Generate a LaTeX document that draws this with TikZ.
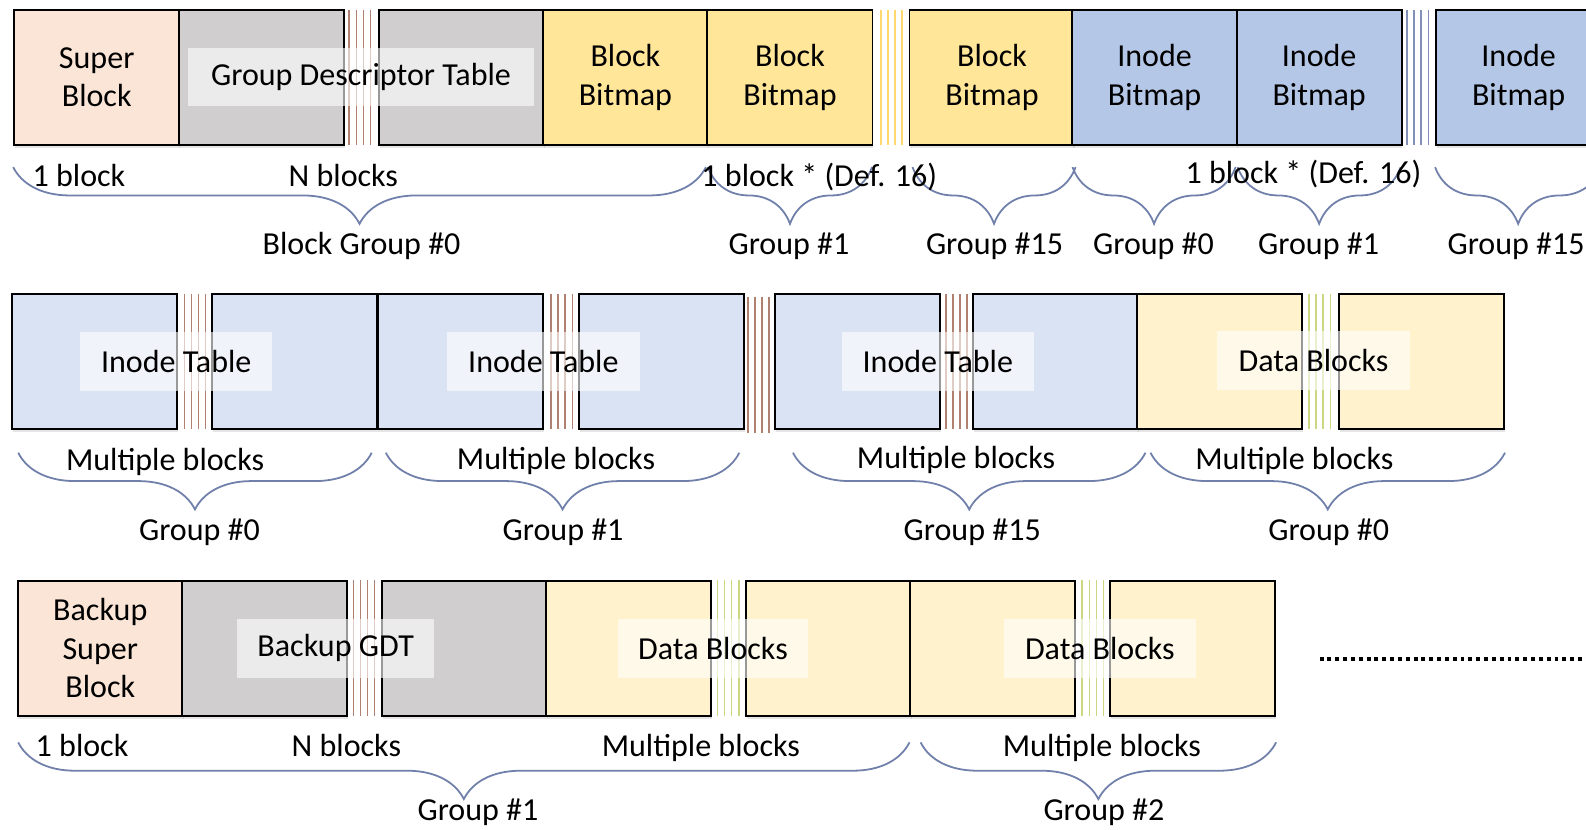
\documentclass[tikz,border=0pt]{standalone}
\usepackage{fontspec}
\setmainfont{Carlito}
\usepackage{tikz}
\usetikzlibrary{positioning, decorations.pathreplacing, shadows}

\definecolor{peach}{HTML}{FBE5D6}
\definecolor{gdtgray}{HTML}{D0CECE}
\definecolor{bmyellow}{HTML}{FFE699}
\definecolor{bmblue}{HTML}{B4C7E7}
\definecolor{itblue}{HTML}{DAE3F3}
\definecolor{dbyellow}{HTML}{FFF2CC}
\definecolor{bracecol}{HTML}{7080AA}
\definecolor{brownline}{HTML}{B08070}
\definecolor{yellowline}{HTML}{FFD970}
\definecolor{blueline}{HTML}{8290B8}
\definecolor{greenline}{HTML}{CDD782}

\begin{document}
\begin{tikzpicture}[x=0.02cm, y=-0.02cm, font=\fontsize{18}{21.6}\selectfont]
        % Setup the styles
        \tikzset{block style/.style={draw=black,
                                     line width=1.1pt,
                                     minimum width=3.26cm,
                                     minimum height=2.66cm,
                                     inner sep=0pt,
                                     align=center,
                                     drop shadow={shadow xshift=0.4pt, shadow yshift=-2pt, opacity=0.2}},
                 label style/.style={fill=white,
                                     fill opacity=0.6,
                                     text opacity=1,
                                     minimum height=1.16cm,
                                     inner sep=0pt},
                 text style/.style={inner sep=0pt, text height=1.5ex, text depth=.25ex, yshift=-0.1cm},
                 brace style/.style={decorate,
                                     decoration={brace, mirror, amplitude=1.12cm},
                                     draw=bracecol,
                                     line width=1pt},
                 gap style/.style={line width=0.8pt}}

        \clip (0,0) rectangle (1566,819);
        \fill[white] (0,0) rectangle (1566,819);

        % Draw the first row of blocks
        \node[block style, fill=peach]     at (95.5, 76.5)   (sb)   {Super\\Block};
        \node[block style, fill=gdtgray]   at (258, 76.5)    (gdta) {};
        \node[block style, fill=gdtgray]   at (455.5, 76.5)  (gdtb) {};
        \node[block style, fill=bmyellow]  at (617.5, 76.5)  (bba)  {Block\\Bitmap};
        \node[block style, fill=bmyellow]  at (780, 76.5)    (bbb)  {Block\\Bitmap};
        \node[block style, fill=bmyellow]  at (979.5, 76.5)  (bbc)  {Block\\Bitmap};
        \node[block style, fill=bmblue]    at (1140, 76.5)   (iba)  {Inode\\Bitmap};
        \node[block style, fill=bmblue]    at (1302.5, 76.5) (ibb)  {Inode\\Bitmap};
        \node[block style, fill=bmblue]    at (1499.5, 76.5) (ibc)  {Inode\\Bitmap};

        % Draw the second row of blocks
        \node[block style, fill=itblue]    at (93.5, 357)    (ita0)  {};
        \node[block style, fill=itblue]    at (291, 357)     (itb0)  {};
        \node[block style, fill=itblue]    at (454.5, 357)   (ita1)  {};
        \node[block style, fill=itblue]    at (653.5, 357)   (itb1)  {};
        \node[block style, fill=itblue]    at (846.5, 357)   (ita15) {};
        \node[block style, fill=itblue]    at (1042.5, 357)  (itb15) {};
        \node[block style, fill=dbyellow]  at (1204.5, 357)  (dba0)  {};
        \node[block style, fill=dbyellow]  at (1403.5, 357)  (dbb0)  {};

        % Draw the third row of blocks
        \node[block style, fill=peach]     at (99, 640)      (bsb) {Backup\\Super\\Block};
        \node[block style, fill=gdtgray]   at (261, 640)     (bga) {};
        \node[block style, fill=gdtgray]   at (458.5, 640)   (bgb) {};
        \node[block style, fill=dbyellow]  at (620.5, 640)   (da1) {};
        \node[block style, fill=dbyellow]  at (818, 640)     (db1) {};
        \node[block style, fill=dbyellow]  at (980, 640)     (da2) {};
        \node[block style, fill=dbyellow]  at (1177.5, 640)  (db2) {};

        % Draw the gaps between blocks
        \foreach \c/\ya/\yb/\col in {355.25/10/143/brownline, 880.25/10/143/yellowline,
                                     1399.75/10/143/blueline, 192.5/290/424/brownline,
                                     554.5/290/424/brownline, 749/293/428/brownline,
                                     944.5/290/424/brownline, 1303/290/424/greenline,
                                     359.5/573/707/brownline, 719/573/707/greenline,
                                     1079/573/707/greenline}
            \foreach \d in {-10.5,-3.5,3.5,10.5}
                \draw[gap style, draw=\col] (\c+\d,\ya) -- (\c+\d,\yb);

        % Draw the labels over the blocks
        \node[label style, minimum width=6.82cm] at (356.5, 76)  (gdtlbl)  {Group Descriptor Table};
        \node[label style, minimum width=3.8cm]  at (174, 357)   (itlbl0)  {Inode Table};
        \node[label style, minimum width=3.8cm]  at (536.5, 357) (itlbl1)  {Inode Table};
        \node[label style, minimum width=3.8cm]  at (926, 357)   (itlbl15) {Inode Table};
        \node[label style, minimum width=3.8cm]  at (1297, 356)  (dblbl0)  {Data Blocks};
        \node[label style, minimum width=3.9cm]  at (331.5, 640) (bgdtlbl) {Backup GDT};
        \node[label style, minimum width=3.76cm] at (704, 640)   (dblbl1)  {Data Blocks};
        \node[label style, minimum width=3.8cm]  at (1086, 640)  (dblbl2)  {Data Blocks};

        % Draw the braces
        \draw[brace style] (13,165) -- (697,165);
        \draw[brace style] (699,165) -- (861,165);
        \draw[brace style] (901,165) -- (1062,165);
        \draw[brace style] (1059,165) -- (1220,165);
        \draw[brace style] (1222,165) -- (1383,165);
        \draw[brace style] (1417,165) -- (1581,165);
        \draw[brace style] (18,447) -- (367,447);
        \draw[brace style] (381,447) -- (730,447);
        \draw[brace style] (783,447) -- (1131,447);
        \draw[brace style] (1136,447) -- (1486,447);
        \draw[brace style] (18,733) -- (898,733);
        \draw[brace style] (909,733) -- (1260,733);

        % Sizes and groups of the first row
        \node[text style] at (78, 174)   (sz1a) {1 block};
        \node[text style] at (339, 174)  (sz1b) {N blocks};
        \node[text style] at (809, 174)  (sz1c) {1 block * (Def. 16)};
        \node[text style] at (1287, 171) (sz1d) {1 block * (Def. 16)};
        \node[text style] at (357, 241)  (gr1a) {Block Group \#0};
        \node[text style] at (779, 241)  (gr1b) {Group \#1};
        \node[text style] at (982, 241)  (gr1c) {Group \#15};
        \node[text style] at (1139, 241) (gr1d) {Group \#0};
        \node[text style] at (1302, 241) (gr1e) {Group \#1};
        \node[text style] at (1497, 241) (gr1f) {Group \#15};

        % Sizes and groups of the second row
        \node[text style] at (163, 454)  (sz2a) {Multiple blocks};
        \node[text style] at (549, 453)  (sz2b) {Multiple blocks};
        \node[text style] at (944, 452)  (sz2c) {Multiple blocks};
        \node[text style] at (1278, 453) (sz2d) {Multiple blocks};
        \node[text style] at (197, 523)  (gr2a) {Group \#0};
        \node[text style] at (556, 523)  (gr2b) {Group \#1};
        \node[text style] at (960, 523)  (gr2c) {Group \#15};
        \node[text style] at (1312, 523) (gr2d) {Group \#0};

        % Sizes and groups of the third row
        \node[text style] at (81, 737)   (sz3a) {1 block};
        \node[text style] at (342, 737)  (sz3b) {N blocks};
        \node[text style] at (692, 737)  (sz3c) {Multiple blocks};
        \node[text style] at (1088, 737) (sz3d) {Multiple blocks};
        \node[text style] at (472, 800)  (gr3a) {Group \#1};
        \node[text style] at (1090, 800) (gr3b) {Group \#2};

        % More groups follow
        \draw[line width=2.2pt, dash pattern=on 2.2pt off 2.2pt] (1303,651) -- (1566,651);
\end{tikzpicture}
\end{document}
